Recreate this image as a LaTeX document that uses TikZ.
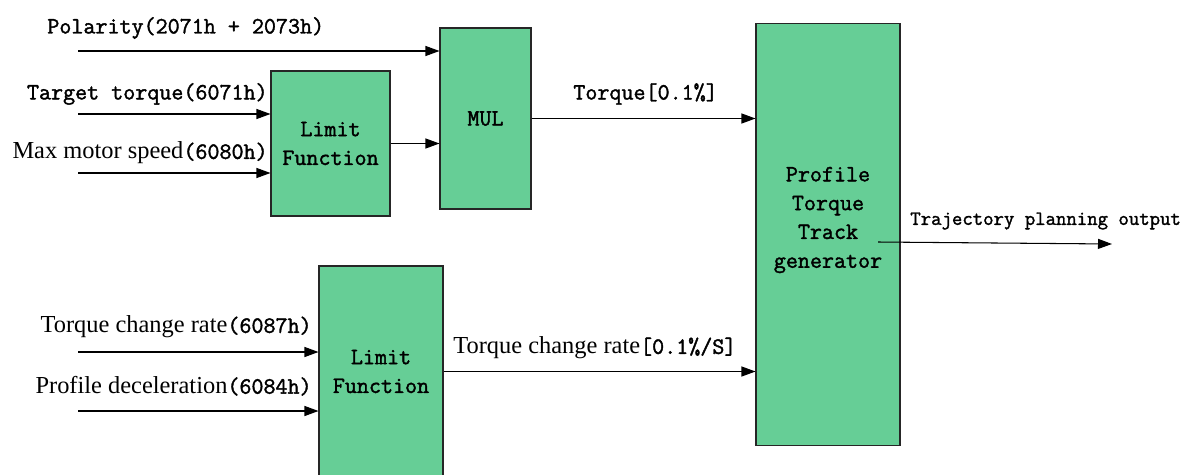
\documentclass[tikz,border=0pt]{standalone}
\usepackage{fontspec}
\setmainfont{Liberation Serif}
\setmonofont{Latin Modern Mono}[FakeBold=1.6]
\usetikzlibrary{arrows.meta, positioning}

\definecolor{blockgreen}{RGB}{102,206,150}
\newcommand{\hexcode}[1]{{\ttfamily\fontsize{13.3}{16}\selectfont #1}}

\begin{document}
\begin{tikzpicture}[
    x=0.02cm, y=-0.02cm,
    block/.style={draw=black!85, line width=0.6pt, fill=blockgreen, align=center,
                  font=\ttfamily\fontsize{13.3}{16.4}\selectfont, inner sep=0pt},
    blocktext/.style={align=center, inner sep=0pt,
                      font=\ttfamily\fontsize{13.3}{16.4}\selectfont},
    lbl/.style={inner sep=0pt, font=\fontsize{13.9}{16}\selectfont},
    arr/.style={-{Triangle[length=0.28cm, width=0.2cm]}, line width=0.6pt},
]
    \useasboundingbox (0,0) rectangle (1181,474);
    \clip (0,0) rectangle (1181,474);

    % Blocks
    \node[block, minimum width=2.38cm, minimum height=2.9cm] (lim1) at (330.5,143.5) {Limit\\Function};
    \node[block, minimum width=1.82cm, minimum height=3.62cm] (mul) at (485.5,118.5) {MUL};
    \node[block, minimum width=2.88cm, minimum height=8.46cm] (prof) at (828,234.5) {};
    \node[blocktext] (proftxt) at (828,220) {Profile\\Torque\\Track\\generator};
    \node[block, minimum width=2.48cm, minimum height=4.22cm] (lim2) at (381,371.5) {Limit\\Function};

    % Free ends
    \coordinate (pol) at (78,51);
    \coordinate (tgt) at (78,114);
    \coordinate (maxs) at (78,173);
    \coordinate (rate) at (78,352);
    \coordinate (dec) at (78,411);
    \coordinate (trajstart) at (878,242);
    \coordinate (trajend) at (1112,244);

    % Arrows
    \draw[arr] (pol) -- (pol -| mul.west);
    \draw[arr] (tgt) -- (tgt -| lim1.west);
    \draw[arr] (maxs) -- (maxs -| lim1.west);
    \draw[arr] (lim1.east) -- (lim1.east -| mul.west);
    \draw[arr] (mul.east) -- (mul.east -| prof.west);
    \draw[arr] (rate) -- (rate -| lim2.west);
    \draw[arr] (dec) -- (dec -| lim2.west);
    \draw[arr] (lim2.east) -- (lim2.east -| prof.west);
    \draw[arr] (trajstart) -- (trajend);

    % Labels
    \node[lbl, anchor=west] (pollbl) at (47,28) {\hexcode{Polarity(2071h + 2073h)}};
    \node[lbl, anchor=east] (tgtlbl) at (268,94) {\hexcode{Target torque(6071h)}};
    \node[lbl, anchor=east] (maxlbl) at (268,153) {Max motor speed\hexcode{(6080h)}};
    \node[lbl, anchor=east] (ratelbl) at (312,327) {Torque change rate\hexcode{(6087h)}};
    \node[lbl, anchor=east] (declbl) at (312,386) {Profile deceleration\hexcode{(6084h)}};
    \node[lbl, anchor=west] (torqlbl) at (573,94) {\hexcode{Torque[0.1\%]}};
    \node[lbl, anchor=west] (outratelbl) at (453,348) {Torque change rate\hexcode{[0.1\%/S]}};
    \node[lbl, anchor=west, font=\ttfamily\fontsize{11.5}{13}\selectfont] (trajlbl) at (910,221) {Trajectory planning output};
\end{tikzpicture}
\end{document}
